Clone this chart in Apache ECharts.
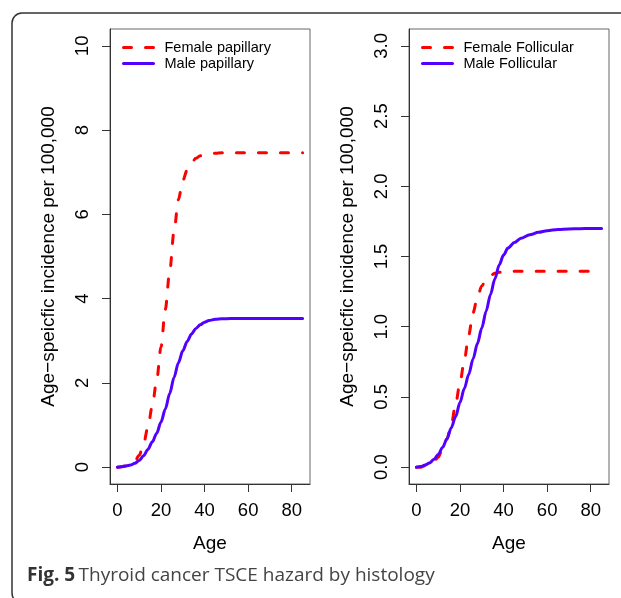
<!DOCTYPE html>
<html><head><meta charset="utf-8">
<script src="https://cdn.jsdelivr.net/npm/echarts@6/dist/echarts.min.js"></script>
<style>html,body{margin:0;padding:0;background:#fff}#c{width:621px;height:598px}</style>
</head><body><div id="c"></div>
<script>
const ages = [0,2,4,6,8,10,12,14,16,18,20,22,24,26,28,30,32,34,36,38,40,42,45,48,52,56,60,65,70,75,80,85];
const femalePapillary = [0,0.01,0.03,0.07,0.14,0.28,0.55,0.95,1.45,2.05,2.85,3.75,4.65,5.6,6.35,6.8,7.05,7.22,7.33,7.39,7.42,7.44,7.45,7.46,7.46,7.46,7.46,7.46,7.46,7.46,7.46,7.46];
const malePapillary = [0,0.01,0.03,0.05,0.09,0.16,0.27,0.42,0.6,0.8,1.07,1.38,1.75,2.13,2.48,2.76,2.98,3.16,3.29,3.38,3.44,3.48,3.51,3.52,3.53,3.53,3.53,3.53,3.53,3.53,3.53,3.53];
const femaleFollicular = [0,0.0,0.01,0.02,0.04,0.07,0.13,0.2,0.3,0.45,0.6,0.76,0.94,1.1,1.21,1.29,1.34,1.365,1.38,1.388,1.392,1.395,1.395,1.395,1.395,1.395,1.395,1.395,1.395,1.395,1.395,1.395];
const maleFollicular = [0,0.005,0.015,0.03,0.055,0.09,0.14,0.2,0.28,0.36,0.46,0.56,0.66,0.77,0.88,0.99,1.11,1.23,1.34,1.44,1.51,1.56,1.6,1.63,1.655,1.672,1.684,1.692,1.696,1.698,1.7,1.7];
const xTicks = [0,20,40,60,80];
const yTicksLeft = [0,2,4,6,8,10];
const yTicksRight = [0,0.5,1.0,1.5,2.0,2.5,3.0];
const seriesNames = ['Female papillary','Male papillary','Female Follicular','Male Follicular'];
const yTitle = 'Age\u2212speicfic incidence per 100,000';
const xTitle = 'Age';
const caption = 'Thyroid cancer TSCE hazard by histology';

const pairs = (ys) => ages.map((a,i)=>[a, ys[i]]);
const FONT = 'Liberation Sans, Arial, sans-serif';
const RED = '#FF0000', BLUE = '#5200FF';

function xAxis(gi){
  return {type:'value', gridIndex:gi, min:-3.4, max:88.4, name:xTitle, nameLocation:'middle', nameGap:50,
    nameTextStyle:{fontFamily:FONT,fontSize:19,color:'#000'},
    axisLine:{show:true,onZero:false,lineStyle:{color:'#333',width:1}},
    axisTick:{show:true,inside:false,length:8,customValues:xTicks,lineStyle:{color:'#333'}},
    axisLabel:{customValues:xTicks,margin:17,fontFamily:FONT,fontSize:18.5,color:'#000'},
    splitLine:{show:false}};
}
function yAxis(gi,min,max,ticks,fmt){
  return {type:'value', gridIndex:gi, min:min, max:max, name:yTitle, nameLocation:'middle', nameGap:52, nameRotate:90,
    nameTextStyle:{fontFamily:FONT,fontSize:19,color:'#000'},
    axisLine:{show:true,onZero:false,lineStyle:{color:'#333',width:1}},
    axisTick:{show:true,inside:false,length:8,customValues:ticks,lineStyle:{color:'#333'}},
    axisLabel:{customValues:ticks,rotate:90,margin:18,fontFamily:FONT,fontSize:18.5,color:'#000',formatter:fmt},
    splitLine:{show:false}};
}
const dashed = {color:RED,width:3,type:[8,14],cap:'round'};
const solid = {color:BLUE,width:3,cap:'round'};
function line(name,data,xi,style){
  return {type:'line',name:name,xAxisIndex:xi,yAxisIndex:xi,data:pairs(data),showSymbol:false,symbol:'none',
    smooth:0.3,smoothMonotone:'x',lineStyle:style,itemStyle:{color:style.color},animation:false};
}
const legendBase = {orient:'vertical',itemWidth:30,itemHeight:12,itemGap:1,
  itemStyle:{opacity:0},
  lineStyle:{width:3,cap:'round'},
  textStyle:{fontFamily:FONT,fontSize:14.5,lineHeight:15,color:'#000',padding:[0,0,0,6]}};

const chart = echarts.init(document.getElementById('c'),null,{renderer:'canvas'});
chart.setOption({
  animation:false,
  backgroundColor:'#fff',
  grid:[
    {left:110,top:29,width:200,height:455,show:true,borderColor:'#666',borderWidth:1,backgroundColor:'transparent'},
    {left:409,top:29,width:200,height:455,show:true,borderColor:'#666',borderWidth:1,backgroundColor:'transparent'}
  ],
  xAxis:[xAxis(0),xAxis(1)],
  yAxis:[
    yAxis(0,-0.4,10.4,yTicksLeft,v=>String(v)),
    yAxis(1,-0.12,3.12,yTicksRight,v=>Number(v).toFixed(1))
  ],
  legend:[
    Object.assign({},legendBase,{left:117,top:35,data:[seriesNames[0],seriesNames[1]]}),
    Object.assign({},legendBase,{left:416,top:35,data:[seriesNames[2],seriesNames[3]]})
  ],
  series:[
    line(seriesNames[0],femalePapillary,0,dashed),
    line(seriesNames[1],malePapillary,0,solid),
    line(seriesNames[2],femaleFollicular,1,dashed),
    line(seriesNames[3],maleFollicular,1,solid)
  ],
  graphic:[
    {type:'rect',shape:{x:12,y:13,width:700,height:590,r:10},style:{fill:'none',stroke:'#333',lineWidth:1.5},silent:true},
    {type:'text',left:27,top:566,style:{rich:{b:{fontWeight:'bold',fontFamily:'Open Sans, Noto Sans, sans-serif',fontSize:19,fill:'#333'},n:{fontFamily:'Open Sans, Noto Sans, sans-serif',fontSize:19,fill:'#444'}},text:'{b|Fig. 5} {n|'+caption+'}'}}
  ]
});
</script></body></html>
